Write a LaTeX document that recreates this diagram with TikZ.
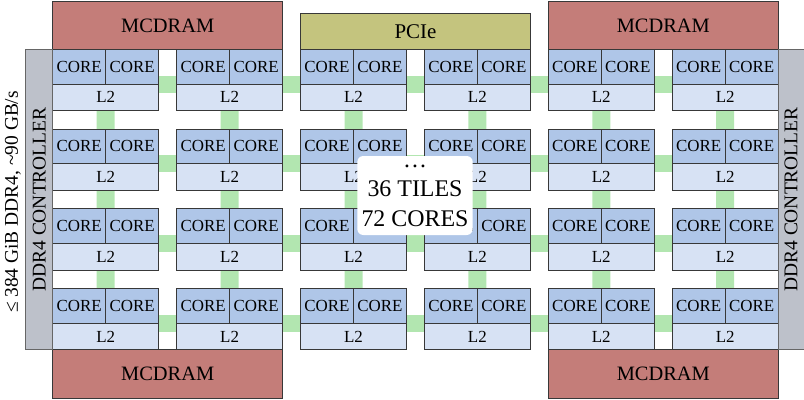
\documentclass[tikz,border=0pt]{standalone}
\usepackage{fontspec}
\setmainfont{Liberation Serif}
\usetikzlibrary{backgrounds}
\definecolor{edge}{HTML}{383838}
\definecolor{corefill}{HTML}{AFC6E8}
\definecolor{l2fill}{HTML}{D7E2F4}
\definecolor{linkfill}{HTML}{B2E6B0}
\definecolor{mcdfill}{HTML}{C47D79}
\definecolor{pciefill}{HTML}{C4C47E}
\definecolor{ddrfill}{HTML}{BDC1CA}
\tikzset{
  tilebox/.style={draw=edge, line width=0.9bp, inner sep=0pt, outer sep=0pt, anchor=north west},
  corebox/.style={tilebox, fill=corefill, minimum width=53bp, minimum height=34.7bp,
    font=\fontsize{17}{20}\selectfont},
  l2box/.style={tilebox, fill=l2fill, minimum width=106bp, minimum height=26.7bp,
    font=\fontsize{17}{20}\selectfont},
  hlink/.style={draw=linkfill, line width=17bp},
  vlink/.style={draw=linkfill, line width=18bp},
  membox/.style={draw=edge, line width=0.9bp, inner sep=0pt, outer sep=0pt, fill=mcdfill,
    minimum width=230bp, font=\fontsize{20.5}{24}\selectfont},
  pciebox/.style={membox, fill=pciefill, minimum height=36bp, font=\fontsize{21}{24}\selectfont},
  ddrbox/.style={draw=gray!80!black, line width=0.9bp, inner sep=0pt, outer sep=0pt, fill=ddrfill,
    rotate=90, minimum width=300.5bp, font=\fontsize{19.5}{22}\selectfont},
  infobox/.style={fill=white, rounded corners=6bp, inner sep=0pt, minimum width=115.4bp,
    minimum height=79bp, align=center, font=\fontsize{24}{29.5}\selectfont},
  sidetext/.style={rotate=90, inner sep=0pt, font=\fontsize{19.5}{22}\selectfont}
}
\begin{document}
\begin{tikzpicture}[x=1bp,y=-1bp]
\useasboundingbox (0,0) rectangle (804,399);
% tiles
\foreach \r in {0,...,3}{
  \foreach \c in {0,...,5}{
    \pgfmathsetmacro\tx{52.7+123.9*\c}
    \pgfmathsetmacro\ty{49.3+79.7*\r}
    \node[corebox] (ca-\r-\c) at (\tx,\ty) {CORE};
    \node[corebox] (cb-\r-\c) at (ca-\r-\c.north east) {CORE};
    \node[l2box] (l2-\r-\c) at (ca-\r-\c.south west) {L2};
  }
}
% mesh links
\begin{scope}[on background layer]
\foreach \r in {0,...,3}{
  \foreach \c [evaluate=\c as \n using int(\c+1)] in {0,...,4}{
    \draw[hlink] (l2-\r-\c.north east) -- (l2-\r-\n.north west);
  }
}
\foreach \r [evaluate=\r as \n using int(\r+1)] in {0,1,2}{
  \foreach \c in {0,...,5}{
    \draw[vlink] (l2-\r-\c.south) -- (ca-\n-\c.north east);
  }
}
\end{scope}
% memories and I/O
\node[membox, anchor=south west, minimum height=47.6bp] (mcd-tl) at (ca-0-0.north west) {MCDRAM};
\node[membox, anchor=south west, minimum height=47.6bp] (mcd-tr) at (ca-0-4.north west) {MCDRAM};
\node[pciebox, anchor=south west] (pcie) at (ca-0-2.north west) {PCIe};
\node[membox, anchor=north west, minimum height=48.5bp] (mcd-bl) at (l2-3-0.south west) {MCDRAM};
\node[membox, anchor=north west, minimum height=48.5bp] (mcd-br) at (l2-3-4.south west) {MCDRAM};
% DDR4 controllers
\node[ddrbox, minimum height=27bp] (ddr-l) at (39.2,199.55) {DDR4 CONTROLLER};
\node[ddrbox, minimum height=26bp] (ddr-r) at (791.1,199.55) {DDR4 CONTROLLER};
\node[sidetext] (bw) at (13,202) {≤ 384 GiB DDR4, \textasciitilde 90 GB/s};
% info box
\node[infobox] (info) at (415,195.5) {…\\36 TILES\\72 CORES};
\end{tikzpicture}
\end{document}
